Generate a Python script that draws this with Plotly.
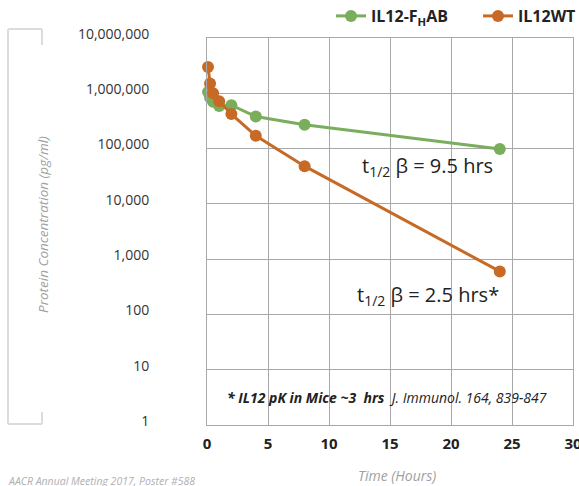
import plotly.graph_objects as go

# Data
time_h = [0.083, 0.25, 0.5, 1, 2, 4, 8, 24]
fhab_conc = [1050000, 830000, 700000, 590000, 610000, 380000, 270000, 98000]
wt_conc = [3000000, 1500000, 1000000, 720000, 420000, 170000, 48000, 600]
series_names = ["IL12-F<sub>H</sub>AB", "IL12WT"]
y_tickvals = [1, 10, 100, 1000, 10000, 100000, 1000000, 10000000]
y_ticktext = ["1", "10", "100", "1,000", "10,000", "100,000", "1,000,000", "10,000,000"]
x_tickvals = [0, 5, 10, 15, 20, 25, 30]

GREEN = "#7aad5c"
ORANGE = "#c66a25"
GRID = "#a8a8a8"
FONT = "Open Sans"

W, H = 579, 486
ML, MR, MT, MB = 207, 6, 38, 61

fig = go.Figure()
fig.add_trace(go.Scatter(x=time_h, y=fhab_conc, mode="lines+markers", name=series_names[0],
                         line=dict(color=GREEN, width=3), marker=dict(color=GREEN, size=12),
                         cliponaxis=False))
fig.add_trace(go.Scatter(x=time_h, y=wt_conc, mode="lines+markers", name=series_names[1],
                         line=dict(color=ORANGE, width=3), marker=dict(color=ORANGE, size=12),
                         cliponaxis=False))

pw = W - ML - MR
ph = H - MT - MB
def px(x):
    return (x - ML) / pw
def py(y):
    return (H - MB - y) / ph

def ann(text, x, y, size, color, **kw):
    d = dict(text=text, x=px(x), y=py(y), xref="paper", yref="paper", showarrow=False,
             xanchor="center", yanchor="middle", font=dict(family=FONT, size=size, color=color))
    d.update(kw)
    return d

annotations = [
    ann("t<sub>1/2</sub> β = 9.5 hrs", 427, 166, 20, "#222"),
    ann("t<sub>1/2</sub> β = 2.5 hrs*", 428, 295, 20, "#222"),
    ann("<b><i>* IL12 pK in Mice ~3  hrs</i></b>  <i>J. Immunol. 164, 839-847</i>", 387, 397, 14, "#222"),
    ann("<i>Protein Concentration (pg/ml)</i>", 43, 225, 13.5, "#a0a0a0", textangle=-90),
    ann("<i>Time (Hours)</i>", 397, 475, 14, "#a0a0a0"),
    ann("<i>AACR Annual Meeting 2017, Poster #588</i>", 197, 481, 10.5, "#b0b0b0", xanchor="right"),
]

shapes = []
bracket = [((8, 29), (42, 29)), ((42, 29), (42, 45)), ((8, 29), (8, 424)),
           ((8, 424), (42, 424)), ((42, 424), (42, 412))]
for (x0, y0), (x1, y1) in bracket:
    shapes.append(dict(type="line", xref="paper", yref="paper", x0=px(x0), y0=py(y0), x1=px(x1), y1=py(y1),
                       line=dict(color="#dcdcdc", width=2)))

fig.update_layout(
    template="none",
    width=W, height=H,
    margin=dict(l=ML, r=MR, t=MT, b=MB, autoexpand=False),
    paper_bgcolor="white", plot_bgcolor="white",
    font=dict(family=FONT, color="#222"),
    showlegend=True,
    legend=dict(orientation="h", x=px(331), xanchor="left", y=py(16), yanchor="middle",
                font=dict(family=FONT, size=16, color="#222", weight="bold"),
                bgcolor="rgba(0,0,0,0)", entrywidth=102, entrywidthmode="pixels"),
    annotations=annotations,
    shapes=shapes,
    xaxis=dict(range=[0, 30], tickvals=x_tickvals, showgrid=True, gridcolor=GRID, gridwidth=1,
               showline=True, linecolor=GRID, linewidth=1, mirror=True, zeroline=False,
               ticks="outside", ticklen=5, tickcolor="rgba(0,0,0,0)", ticklabeloverflow="allow",
               tickfont=dict(family=FONT, size=15, color="#222", weight="bold")),
    yaxis=dict(type="log", range=[0, 7], tickvals=y_tickvals, ticktext=y_ticktext,
               showgrid=True, gridcolor=GRID, gridwidth=1,
               showline=True, linecolor=GRID, linewidth=1, mirror=True, zeroline=False,
               ticks="outside", ticklen=54, tickcolor="rgba(0,0,0,0)", ticklabelshift=-4,
               tickfont=dict(family=FONT, size=14, color="#333")),
)

fig.write_html("out.html")
